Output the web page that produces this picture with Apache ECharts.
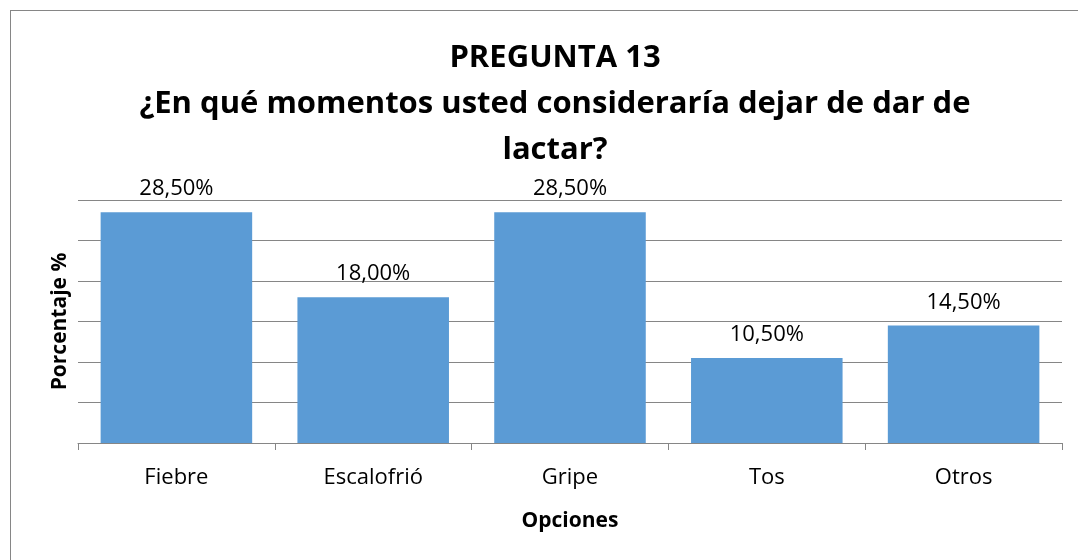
<!DOCTYPE html>
<html>
<head>
<meta charset="utf-8">
<script src="https://cdn.jsdelivr.net/npm/echarts@6/dist/echarts.min.js"></script>
<style>
  html, body { margin: 0; padding: 0; background: #fff; }
  #frame { position: absolute; left: 10px; top: 10px; width: 1080px; height: 560px; border: 1px solid #868686; box-sizing: border-box; }
  #main { width: 1078px; height: 560px; }
</style>
</head>
<body>
<div id="frame"></div>
<div id="main"></div>
<script>
// datos del gráfico
const categorias = ['Fiebre', 'Escalofrió', 'Gripe', 'Tos', 'Otros'];
const porcentajes = [28.5, 18.0, 28.5, 10.5, 14.5];
const titulo = 'PREGUNTA 13\n¿En qué momentos usted consideraría dejar de dar de\nlactar?';

const fuente = '"Open Sans", "Noto Sans", sans-serif';

const chart = echarts.init(document.getElementById('main'), null, { renderer: 'canvas' });

chart.setOption({
    animation: false,
    title: {
        text: titulo,
        left: 550,
        textAlign: 'center',
        top: 30,
        textStyle: {
            fontFamily: fuente,
            fontWeight: 'bold',
            fontSize: 31,
            lineHeight: 46,
            color: '#000'
        }
    },
    grid: {
        left: 78,
        right: 16,
        top: 200,
        bottom: 117
    },
    xAxis: {
        type: 'category',
        data: categorias,
        name: 'Opciones',
        nameLocation: 'middle',
        nameGap: 68,
        nameTextStyle: { fontFamily: fuente, fontWeight: 'bold', fontSize: 21, color: '#000' },
        axisLine: { lineStyle: { color: '#868686', width: 1 } },
        axisTick: { show: true, length: 7, lineStyle: { color: '#868686' } },
        axisLabel: { fontFamily: fuente, fontSize: 22, color: '#000', margin: 24 }
    },
    yAxis: {
        type: 'value',
        min: 0,
        max: 30,
        interval: 5,
        name: 'Porcentaje %',
        nameLocation: 'middle',
        nameGap: 7,
        nameRotate: 90,
        nameTextStyle: { fontFamily: fuente, fontWeight: 'bold', fontSize: 21, color: '#000' },
        axisLine: { show: false },
        axisTick: { show: false },
        axisLabel: { show: false },
        splitLine: { lineStyle: { color: '#868686', width: 1 } }
    },
    series: [{
        type: 'bar',
        data: porcentajes,
        barCategoryGap: '23%',
        itemStyle: { color: '#5B9BD5' },
        label: {
            show: true,
            position: 'top',
            distance: 12,
            fontFamily: fuente,
            fontSize: 22,
            color: '#000',
            formatter: p => p.value.toFixed(2).replace('.', ',') + '%'
        }
    }]
});
</script>
</body>
</html>
